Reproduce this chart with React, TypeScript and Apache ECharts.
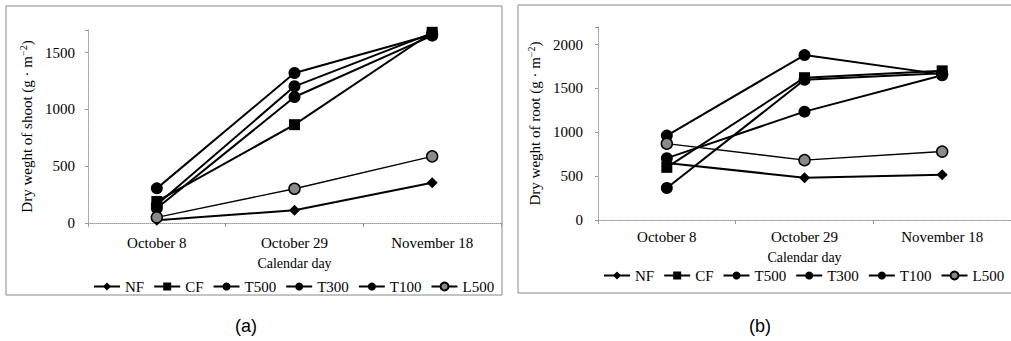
import React, { useEffect, useRef } from "react";
import * as echarts from "echarts";

const categories = ["October 8", "October 29", "November 18"];
const seriesNames = ["NF", "CF", "T500", "T300", "T100", "L500"];

// Dry weight of shoot (g·m^-2)
const shootNF = [25, 112, 355];
const shootCF = [190, 866, 1680];
const shootT500 = [305, 1321, 1660];
const shootT300 = [160, 1204, 1672];
const shootT100 = [130, 1110, 1650];
const shootL500 = [50, 302, 587];

// Dry weight of root (g·m^-2)
const rootNF = [650, 482, 515];
const rootCF = [600, 1622, 1700];
const rootT500 = [962, 1880, 1660];
const rootT300 = [705, 1235, 1650];
const rootT100 = [365, 1598, 1672];
const rootL500 = [870, 682, 780];

const shootTicks = [0, 500, 1000, 1500];
const rootTicks = [0, 500, 1000, 1500, 2000];

const FONT = "'Liberation Serif', 'DejaVu Serif', serif";

const symbolFor: Record<string, string> = {
  NF: "diamond",
  CF: "rect",
  T500: "circle",
  T300: "circle",
  T100: "circle",
  L500: "circle",
};
const sizeFor: Record<string, number> = {
  NF: 11,
  CF: 11,
  T500: 12,
  T300: 12,
  T100: 12,
  L500: 11,
};

function makeSeries(name: string, data: number[], idx: number) {
  const isL = name === "L500";
  return {
    type: "line",
    name,
    data,
    xAxisIndex: idx,
    yAxisIndex: idx,
    symbol: symbolFor[name],
    symbolSize: sizeFor[name],
    lineStyle: { color: "#000", width: isL ? 1.4 : 2 },
    itemStyle: {
      color: isL ? "#8a8a8a" : "#000",
      borderColor: "#000",
      borderWidth: isL ? 1.5 : 0,
    },
  };
}

export default function App() {
  const ref = useRef<HTMLDivElement>(null);
  useEffect(() => {
    if (!ref.current) return;
    const chart = echarts.init(ref.current, null, { renderer: "svg" });
    const shootData = [shootNF, shootCF, shootT500, shootT300, shootT100, shootL500];
    const rootData = [rootNF, rootCF, rootT500, rootT300, rootT100, rootL500];

    const xAxisBase = (gridIndex: number, margin: number, nameGap: number) => ({
      type: "category",
      gridIndex,
      data: categories,
      boundaryGap: true,
      name: "Calendar day",
      nameLocation: "middle",
      nameGap,
      nameTextStyle: { fontFamily: FONT, fontSize: 14, color: "#000" },
      axisLine: { lineStyle: { color: "#999", type: "dotted", width: 1 } },
      axisTick: { show: true, length: 4, lineStyle: { color: "#999" } },
      axisLabel: { margin, fontFamily: FONT, fontSize: 15, color: "#000" },
      splitLine: { show: false },
    });

    const yAxisBase = (
      gridIndex: number,
      max: number,
      ticks: number[],
      label: string,
      nameGap: number,
      margin: number
    ) => ({
      type: "value",
      gridIndex,
      min: 0,
      max,
      interval: 500,
      name: "Dry weght of " + label + " (g · m{sup|−2})",
      nameLocation: "middle",
      nameRotate: 90,
      nameGap,
      nameTextStyle: {
        fontFamily: FONT,
        fontSize: 15,
        color: "#000",
        rich: { sup: { fontFamily: FONT, fontSize: 10, color: "#000", verticalAlign: "top", padding: [0, 0, 8, 0] } },
      },
      axisLine: { show: true, lineStyle: { color: "#999", type: "dotted", width: 1 } },
      axisTick: { show: true, length: 3, lineStyle: { color: "#999" } },
      axisLabel: {
        margin,
        fontFamily: FONT,
        fontSize: 15,
        color: "#000",
        formatter: (v: number) => (ticks.indexOf(v) >= 0 ? String(v) : ""),
      },
      splitLine: { show: false },
    });

    const legendBase = (left: number, top: number) => ({
      left,
      top,
      width: 420,
      data: seriesNames,
      itemWidth: 26,
      itemHeight: 10,
      itemGap: 9,
      textStyle: { fontFamily: FONT, fontSize: 15, color: "#000" },
      selectedMode: false,
    });

    chart.setOption({
      animation: false,
      backgroundColor: "#fff",
      grid: [
        { left: 88, top: 30, width: 413, height: 193 },
        { left: 598, top: 27, width: 413, height: 193 },
      ],
      xAxis: [xAxisBase(0, 12, 33), xAxisBase(1, 9, 30)],
      yAxis: [
        yAxisBase(0, 1700, shootTicks, "shoot", 52, 13),
        yAxisBase(1, 2200, rootTicks, "root", 54, 15),
      ],
      legend: [legendBase(88, 274), legendBase(598, 263)],
      series: [
        ...seriesNames.map((n, i) => makeSeries(n, shootData[i], 0)),
        ...seriesNames.map((n, i) => makeSeries(n, rootData[i], 1)),
      ],
      graphic: [
        {
          type: "rect",
          shape: { x: 6, y: 6, width: 496, height: 289 },
          style: { fill: "none", stroke: "#888", lineWidth: 1 },
          silent: true,
        },
        {
          type: "rect",
          shape: { x: 518, y: 5, width: 500, height: 288 },
          style: { fill: "none", stroke: "#888", lineWidth: 1 },
          silent: true,
        },
        {
          type: "text",
          x: 246,
          y: 326,
          style: { text: "(a)", font: "18px 'Liberation Sans', Arial, sans-serif", fill: "#000", textAlign: "center", textVerticalAlign: "middle" },
        },
        {
          type: "text",
          x: 760,
          y: 326,
          style: { text: "(b)", font: "18px 'Liberation Sans', Arial, sans-serif", fill: "#000", textAlign: "center", textVerticalAlign: "middle" },
        },
      ],
    });
    return () => chart.dispose();
  }, []);
  return (
    <div
      ref={ref}
      style={{ position: "absolute", left: 0, top: 0, width: 1011, height: 341 }}
    />
  );
}
